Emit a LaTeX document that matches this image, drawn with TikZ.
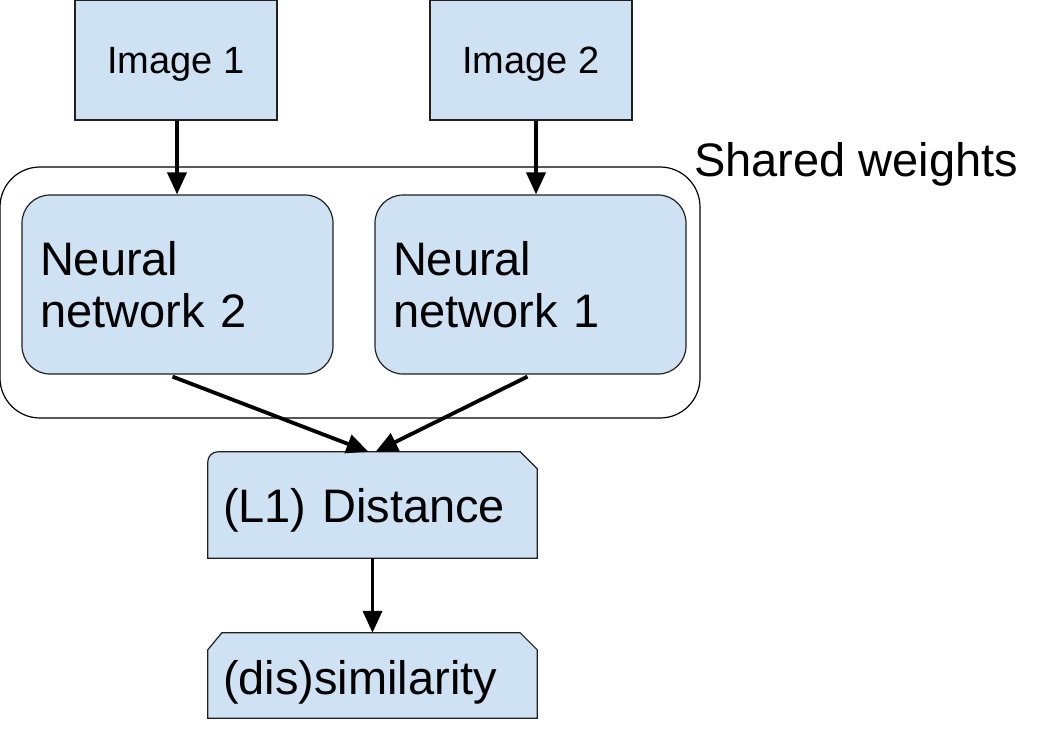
\documentclass[tikz,border=0pt]{standalone}
\usepackage{fontspec}
\setmainfont{Liberation Sans}
\usetikzlibrary{arrows.meta}
\definecolor{boxblue}{HTML}{CFE2F3}
\definecolor{boxline}{HTML}{202020}
\tikzset{
	inbox/.style={draw=boxline, fill=boxblue, line width=1.2pt, minimum width=202pt, minimum height=120pt, inner sep=0pt, text height=27pt, text depth=0pt, font=\fontsize{38}{44}\selectfont},
	netbox/.style={draw=boxline, fill=boxblue, line width=1.2pt, rounded corners=28pt, minimum width=311pt, minimum height=179pt, inner xsep=18pt, text width=275pt, align=left, font=\fontsize{47}{52}\selectfont},
	outbox/.style={minimum width=329pt, inner xsep=15pt, text width=299pt, align=left, text height=34pt, text depth=0pt, font=\fontsize{47}{52}\selectfont},
	flow/.style={line width=3.8pt, -{Triangle[length=22pt,width=19pt]}}
}
\begin{document}
\begin{tikzpicture}[x=1pt, y=-1pt]
			%%%%% START %%%%%
			\useasboundingbox (0, 0) rectangle (1051, 730);
			
			\node[draw=black, line width=1.2pt, rounded corners=40pt, minimum width=700pt, minimum height=251pt] (shared) at (350, 292.5) {};
			\node[anchor=base west, font=\fontsize{47}{52}\selectfont] (sharedlabel) at ([xshift=-10pt, yshift=-10pt]shared.north east) {Shared weights};
			
			\node[inbox] (img1) at (176, 60) {Image 1};
			\node[inbox] (img2) at (531, 60) {Image 2};
			
			\node[netbox] (nn2) at (177.5, 284.5) {Neural\\network 2};
			\node[netbox] (nn1) at (530.5, 284.5) {Neural\\network 1};
			
			% distance box: round top-left, snipped top-right
			\node[outbox, minimum height=106pt] (dist) at (372.5, 505) {(L1) Distance};
			\filldraw[draw=boxline, fill=boxblue, line width=1.2pt] (dist.south west) [rounded corners=10pt] -- (dist.north west) [sharp corners] -- ([xshift=-17pt]dist.north east) -- ([yshift=-17pt]dist.north east) -- (dist.south east) -- cycle;
			\node[outbox, minimum height=106pt] at (dist) {(L1) Distance};
			
			% similarity box: both top corners snipped
			\node[outbox, minimum height=85pt] (sim) at (372.5, 675.5) {(dis)similarity};
			\filldraw[draw=boxline, fill=boxblue, line width=1.2pt] (sim.south west) -- ([yshift=-17pt]sim.north west) -- ([xshift=14pt]sim.north west) -- ([xshift=-17pt]sim.north east) -- ([yshift=-17pt]sim.north east) -- (sim.south east) -- cycle;
			\node[outbox, minimum height=85pt] at ([yshift=-2pt]sim) {(dis)similarity};
			
			\draw[flow] ([xshift=1pt]img1.south) -- ([xshift=1pt]img1.south |- nn2.north);
			\draw[flow] ([xshift=5pt]img2.south) -- ([xshift=5pt]img2.south |- nn1.north);
			\draw[flow] ([xshift=-5pt, yshift=-2pt]nn2.south) -- ([xshift=-4pt]dist.north);
			\draw[flow] ([xshift=-3pt, yshift=-2pt]nn1.south) -- ([xshift=3pt]dist.north);
			\draw[flow] (dist.south) -- (sim.north);
			
			%%%%% END %%%%%
		\end{tikzpicture}
\end{document}
